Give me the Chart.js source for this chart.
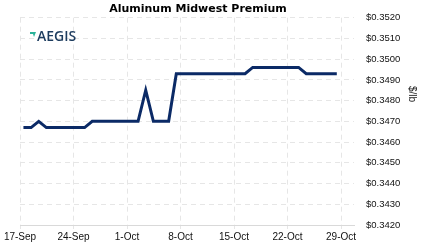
<!DOCTYPE html>
<html>
<head>
<meta charset="utf-8">
<script src="https://cdn.jsdelivr.net/npm/chart.js@4"></script>
<style>
html,body{margin:0;padding:0;background:#fff;}
#wrap{width:423px;height:251px;position:relative;}
</style>
</head>
<body>
<div id="wrap"><canvas id="c" width="423" height="251"></canvas></div>
<script>
// Daily values, 17-Sep through 28-Oct
const dates = ['17-Sep','18-Sep','19-Sep','20-Sep','21-Sep','22-Sep','23-Sep','24-Sep','25-Sep','26-Sep','27-Sep','28-Sep','29-Sep','30-Sep',
  '1-Oct','2-Oct','3-Oct','4-Oct','5-Oct','6-Oct','7-Oct','8-Oct','9-Oct','10-Oct','11-Oct','12-Oct','13-Oct','14-Oct',
  '15-Oct','16-Oct','17-Oct','18-Oct','19-Oct','20-Oct','21-Oct','22-Oct','23-Oct','24-Oct','25-Oct','26-Oct','27-Oct','28-Oct'];
const premium = [0.3467,0.3467,0.3470,0.3467,0.3467,0.3467,0.3467,0.3467,0.3467,0.3470,0.3470,0.3470,0.3470,0.3470,
  0.3470,0.3470,0.3485,0.3470,0.3470,0.3470,0.3493,0.3493,0.3493,0.3493,0.3493,0.3493,0.3493,0.3493,
  0.3493,0.3493,0.3496,0.3496,0.3496,0.3496,0.3496,0.3496,0.3496,0.3493,0.3493,0.3493,0.3493,0.3493];
const tickLabels = ['17-Sep','24-Sep','1-Oct','8-Oct','15-Oct','22-Oct','29-Oct'];
const yTicks = [0.3420,0.3430,0.3440,0.3450,0.3460,0.3470,0.3480,0.3490,0.3500,0.3510,0.3520];

const points = premium.map((v,i)=>({x:i+0.45,y:v}));

const extras = {
  id:'extras',
  afterDraw(chart){
    const ctx = chart.ctx;
    ctx.save();
    // title
    ctx.fillStyle = '#000';
    ctx.font = 'bold 11px "DejaVu Sans", Verdana, sans-serif';
    ctx.textAlign = 'center';
    ctx.textBaseline = 'middle';
    ctx.fillText('Aluminum Midwest Premium', 198, 9);
    // logo
    ctx.fillStyle = '#2bb39a';
    ctx.beginPath();
    ctx.moveTo(30,32); ctx.lineTo(36,32); ctx.lineTo(34,37); ctx.lineTo(33,34); ctx.lineTo(30,34);
    ctx.closePath(); ctx.fill();
    ctx.fillStyle = '#1d3c5e';
    ctx.font = '600 14px "Open Sans", Arial, sans-serif';
    ctx.textAlign = 'left';
    ctx.textBaseline = 'alphabetic';
    ctx.fillText('AEGIS', 37, 41);
    // y axis title
    ctx.translate(412, 94);
    ctx.rotate(Math.PI/2);
    ctx.fillStyle = '#222';
    ctx.font = '10px "Liberation Sans", Arial, sans-serif';
    ctx.textAlign = 'center';
    ctx.textBaseline = 'middle';
    ctx.fillText('$/lb', 0, 0);
    ctx.restore();
  }
};

new Chart(document.getElementById('c'), {
  type:'line',
  data:{datasets:[{data:points,borderColor:'#0b2a66',borderWidth:3,pointRadius:0,tension:0,fill:false}]},
  options:{
    responsive:false,animation:false,
    layout:{padding:{left:20,top:17,right:0,bottom:0}},
    plugins:{legend:{display:false},tooltip:{enabled:false}},
    scales:{
      x:{type:'linear',min:0,max:43.7,
        afterFit(s){s.height=26;},
        afterBuildTicks(s){s.ticks=tickLabels.map((t,i)=>({value:i*7}));},
        ticks:{callback:(v)=>tickLabels[Math.round(v/7)],color:'#111',font:{family:'"Liberation Sans", Arial, sans-serif',size:10},padding:2,maxRotation:0,autoSkip:false},
        grid:{color:'#e6e6e6',tickLength:4,tickColor:'#e6e6e6'},
        border:{display:true,color:'#d9d9d9',width:1,dash:[5,4]}
      },
      y:{position:'right',min:0.342,max:0.352,
        afterFit(s){s.width=69;},
        afterBuildTicks(s){s.ticks=yTicks.map(v=>({value:v}));},
        ticks:{callback:(v)=>'$'+Number(v).toFixed(4),color:'#111',font:{family:'"Liberation Sans", Arial, sans-serif',size:9.5},padding:12},
        grid:{color:'#e6e6e6',drawTicks:false},
        border:{display:false,dash:[5,4]}
      }
    }
  },
  plugins:[extras]
});
</script>
</body>
</html>
